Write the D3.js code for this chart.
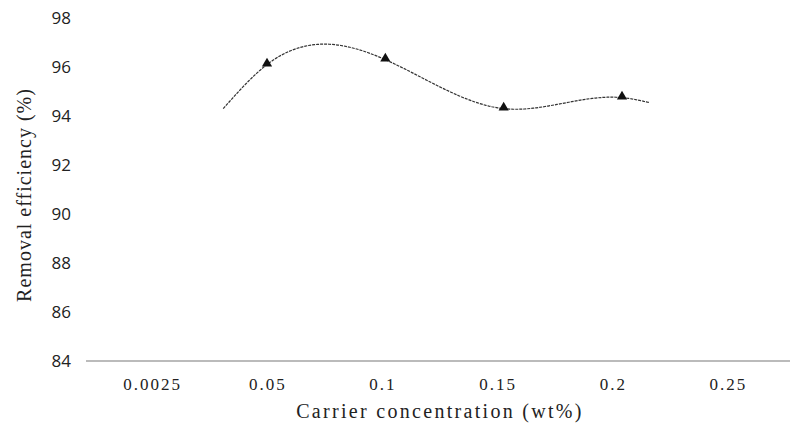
<!DOCTYPE html>
<html>
<head>
<meta charset="utf-8">
<script src="https://cdn.jsdelivr.net/npm/d3@7"></script>
<style>
  body { margin: 0; background: #fff; }
  svg { display: block; }
</style>
</head>
<body>
<svg id="chart" width="791" height="429"></svg>
<script>
// categories on the x axis (evenly spaced, categorical)
var categories = ["0.0025", "0.05", "0.1", "0.15", "0.2", "0.25"];
// measured removal efficiency, null where nothing was plotted
var efficiency = [null, 96.1, 96.3, 94.3, 94.75, null];
// the smoothed line runs a little past the first and last marker
var curveLead = { i: 0.63, v: 94.3 };
var curveTail = { i: 4.23, v: 94.55 };
var yTicks = [84, 86, 88, 90, 92, 94, 96, 98];

var svg = d3.select("#chart");

var x = d3.scaleBand().domain(categories).range([95, 786]);
// markers sit slightly wider apart than the labels in the scan
var xi = d3.scaleLinear().domain([1, 4]).range([267, 622]);
var y = d3.scaleLinear().domain([84, 98]).range([361, 18]);

// natural cubic spline y(x) through the knots, sampled for d3.line
function naturalSpline(knots, steps) {
    var n = knots.length, xs = knots.map(function(d){ return d.i }), ys = knots.map(function(d){ return d.v });
    var h = [], a = [], l = [1], mu = [0], z = [0], c = new Array(n).fill(0);
    for (var k = 0; k < n - 1; k++) h.push(xs[k+1] - xs[k]);
    for (k = 1; k < n - 1; k++) {
        a[k] = 3 / h[k] * (ys[k+1] - ys[k]) - 3 / h[k-1] * (ys[k] - ys[k-1]);
        l[k] = 2 * (xs[k+1] - xs[k-1]) - h[k-1] * mu[k-1];
        mu[k] = h[k] / l[k];
        z[k] = (a[k] - h[k-1] * z[k-1]) / l[k];
    }
    var b = [], dd = [];
    for (k = n - 2; k >= 0; k--) {
        c[k] = k === 0 ? 0 : z[k] - mu[k] * c[k+1];
        b[k] = (ys[k+1] - ys[k]) / h[k] - h[k] * (c[k+1] + 2 * c[k]) / 3;
        dd[k] = (c[k+1] - c[k]) / (3 * h[k]);
    }
    var out = [];
    for (k = 0; k < n - 1; k++) {
        for (var s = 0; s < steps; s++) {
            var t = h[k] * s / steps;
            out.push({ i: xs[k] + t, v: ys[k] + b[k] * t + c[k] * t * t + dd[k] * t * t * t });
        }
    }
    out.push(knots[n-1]);
    return out;
}

// y tick labels only, no axis line
svg.append("g")
    .selectAll("text")
    .data(yTicks)
    .enter()
    .append("text")
    .attr("x", 71)
    .attr("y", function(d){ return y(d) })
    .attr("dy", "0.35em")
    .attr("text-anchor", "end")
    .style("font-family", "'Open Sans', sans-serif")
    .style("font-size", "17px")
    .attr("fill", "#222")
    .text(function(d){ return d });

// x axis line
svg.append("line")
    .attr("x1", 86).attr("x2", 790)
    .attr("y1", y(84)).attr("y2", y(84))
    .attr("stroke", "#a5a5a5")
    .attr("stroke-width", 1.5);

svg.append("g")
    .selectAll("text")
    .data(categories)
    .enter()
    .append("text")
    .attr("x", function(d){ return x(d) + x.bandwidth() / 2 })
    .attr("y", 390)
    .attr("text-anchor", "middle")
    .style("font-family", "'Liberation Serif', serif")
    .style("font-size", "17px")
    .style("letter-spacing", "2px")
    .attr("fill", "#222")
    .text(function(d){ return d });

// axis titles
svg.append("text")
    .attr("x", 440)
    .attr("y", 418)
    .attr("text-anchor", "middle")
    .style("font-family", "'Liberation Serif', serif")
    .style("font-size", "20px")
    .style("letter-spacing", "2.3px")
    .attr("fill", "#222")
    .text("Carrier concentration (wt%)");

svg.append("text")
    .attr("transform", "translate(31,195) rotate(-90)")
    .attr("text-anchor", "middle")
    .style("font-family", "'Liberation Serif', serif")
    .style("font-size", "20px")
    .style("letter-spacing", "1px")
    .attr("fill", "#222")
    .text("Removal efficiency (%)");

// series points
var pts = [];
efficiency.forEach(function(v, i){ if (v != null) pts.push({ i: i, v: v }); });
var linePts = naturalSpline([curveLead].concat(pts, [curveTail]), 40);

var line = d3.line()
    .x(function(d){ return xi(d.i) })
    .y(function(d){ return y(d.v) });

svg.append("path")
    .datum(linePts)
    .attr("d", line)
    .attr("fill", "none")
    .attr("stroke", "#333")
    .attr("stroke-width", 1.2)
    .attr("stroke-dasharray", "3,1");

svg.selectAll(".mark")
    .data(pts)
    .enter()
    .append("path")
    .attr("class", "mark")
    .attr("transform", function(d){ return "translate(" + xi(d.i) + "," + (y(d.v) - 1) + ")" })
    .attr("d", d3.symbol().type(d3.symbolTriangle).size(45))
    .attr("fill", "#111");
</script>
</body>
</html>
